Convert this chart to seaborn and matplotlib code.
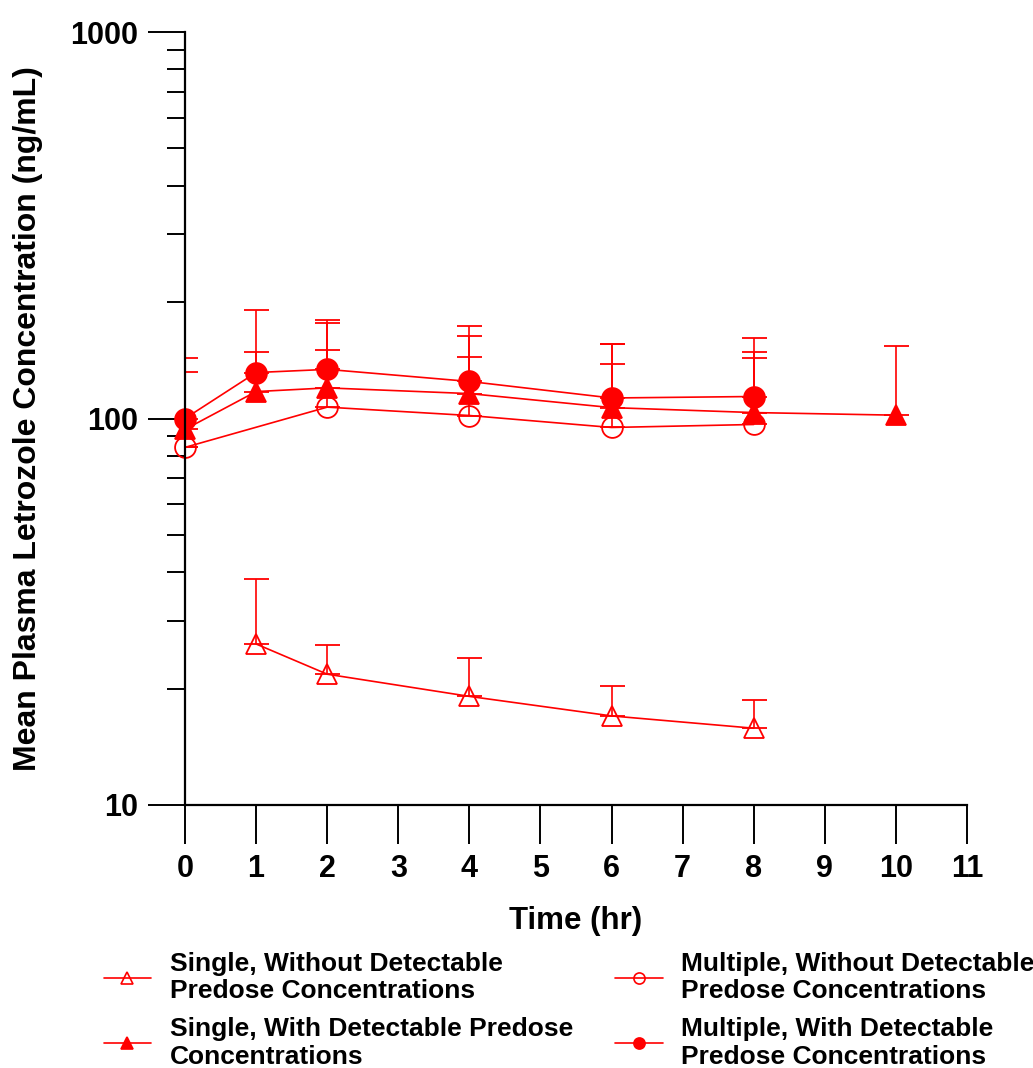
import numpy as np
import pandas as pd
import seaborn as sns
import matplotlib
matplotlib.use("Agg")
import matplotlib.pyplot as plt
from matplotlib.lines import Line2D
from matplotlib.ticker import LogLocator, NullFormatter, FixedLocator, FixedFormatter

# ---------------- data ----------------
sw_time = [1, 2, 4, 6, 8]
sw_mean = [26.1, 21.8, 19.1, 17.0, 15.8]
sw_upper = [38.4, 25.9, 24.0, 20.3, 18.7]

sd_time = [0, 1, 2, 4, 6, 8, 10]
sd_mean = [93.7, 117.4, 120.0, 116.0, 106.7, 103.6, 102.0]
sd_upper = [132.3, 148.9, 177.0, 163.8, 156.3, 148.2, 154.4]

mw_time = [0, 2, 4, 6, 8]
mw_mean = [84.2, 107.0, 101.8, 94.8, 96.5]
mw_upper = [84.2, 150.0, 144.6, 138.7, 143.8]

md_time = [0, 1, 2, 4, 6, 8]
md_mean = [100.0, 131.5, 134.0, 124.7, 113.0, 114.0]
md_upper = [143.8, 191.3, 180.3, 173.8, 156.3, 161.9]

labels = [
    "Single, Without Detectable\nPredose Concentrations",
    "Single, With Detectable Predose\nConcentrations",
    "Multiple, Without Detectable\nPredose Concentrations",
    "Multiple, With Detectable\nPredose Concentrations",
]
x_ticks = list(range(0, 12))
y_ticks = [10, 100, 1000]

# ---------------- style ----------------
sns.set_theme(style="ticks")
plt.rcParams["font.family"] = ["Liberation Sans", "DejaVu Sans"]
plt.rcParams["font.weight"] = "bold"
plt.rcParams["text.color"] = "black"
plt.rcParams["axes.labelcolor"] = "black"

RED = "#FF0000"
fig = plt.figure(figsize=(10.33, 10.68), dpi=100)
ax = fig.add_axes([185 / 1033, 1 - 805 / 1068, (967 - 185) / 1033, (805 - 32) / 1068])

series = [
    (sw_time, sw_mean, sw_upper, "^", "none", 14),
    (sd_time, sd_mean, sd_upper, "^", RED, 14),
    (mw_time, mw_mean, mw_upper, "o", "none", 15),
    (md_time, md_mean, md_upper, "o", RED, 15),
]

for i, (t, m, u, mk, fc, ms) in enumerate(series):
    df = pd.DataFrame({"t": t, "m": m})
    t_arr = np.array(t, dtype=float)
    m_arr = np.array(m, dtype=float)
    u_arr = np.array(u, dtype=float)
    ax.errorbar(t_arr, m_arr, yerr=[np.zeros_like(m_arr), u_arr - m_arr], fmt="none",
                ecolor=RED, elinewidth=1.2, capsize=9, capthick=1.3, zorder=2)
    sns.lineplot(data=df, x="t", y="m", ax=ax, color=RED, linewidth=1.2,
                 marker=mk, markersize=ms, markerfacecolor=fc, markeredgecolor=RED,
                 markeredgewidth=1.3, errorbar=None, sort=False, zorder=3, clip_on=False)

ax.set_yscale("log")
ax.set_xlim(0, 11)
ax.set_ylim(10, 1000)

ax.xaxis.set_major_locator(FixedLocator(x_ticks))
ax.set_xticklabels([str(v) for v in x_ticks])
ax.yaxis.set_major_locator(FixedLocator(y_ticks))
ax.yaxis.set_major_formatter(FixedFormatter([str(v) for v in y_ticks]))
ax.yaxis.set_minor_locator(LogLocator(base=10, subs=np.arange(2, 10)))
ax.yaxis.set_minor_formatter(NullFormatter())

for side in ["top", "right"]:
    ax.spines[side].set_visible(False)
for side in ["left", "bottom"]:
    ax.spines[side].set_linewidth(1.6)
    ax.spines[side].set_color("black")
    ax.spines[side].set_zorder(4)

ax.tick_params(axis="x", which="major", direction="out", length=28, width=1.4,
               labelsize=22, pad=7, colors="black")
ax.tick_params(axis="y", which="major", direction="out", length=27, width=1.4,
               labelsize=22, pad=7, colors="black")
ax.tick_params(axis="y", which="minor", direction="out", length=13, width=1.4, colors="black")
for lab in ax.get_xticklabels() + ax.get_yticklabels():
    lab.set_fontweight("bold")
    lab.set_color("black")

ax.set_xlabel("Time (hr)", fontsize=22.5, fontweight="bold", color="black")
ax.set_ylabel("Mean Plasma Letrozole Concentration (ng/mL)", fontsize=23,
              fontweight="bold", color="black")
ax.xaxis.set_label_coords(0.5, -0.131)
ax.yaxis.set_label_coords(-0.182, 0.5)

handles = []
for (t, m, u, mk, fc, ms) in series:
    handles.append(Line2D([0], [0], color=RED, linewidth=1.2, marker=mk, markersize=8,
                          markerfacecolor=fc, markeredgecolor=RED, markeredgewidth=1.2))
leg = fig.legend(handles, labels, ncol=2, loc="upper left",
                 bbox_to_anchor=(93 / 1033, 1 - 941 / 1068), frameon=False,
                 prop={"family": "Liberation Sans", "weight": "bold", "size": 19},
                 handlelength=1.8, handletextpad=0.7, columnspacing=1.6,
                 labelspacing=0.52, borderaxespad=0, labelcolor="black")

fig.savefig("out.png", dpi=100)
